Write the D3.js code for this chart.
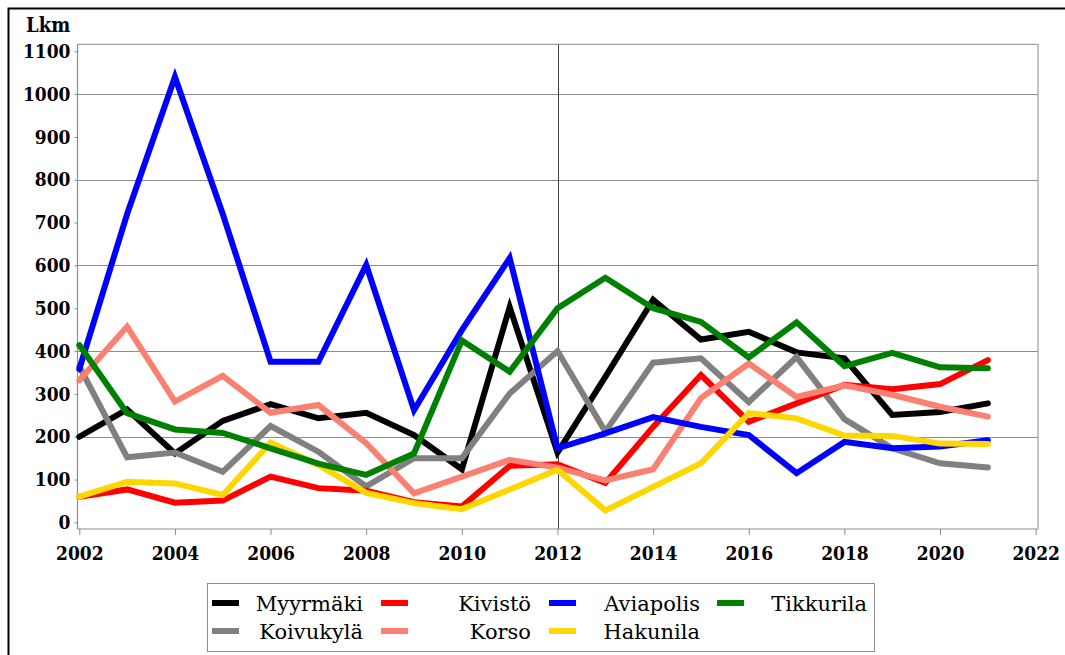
<!DOCTYPE html>
<html><head><meta charset="utf-8">
<script src="https://cdn.jsdelivr.net/npm/d3@7"></script>
<style>
html,body{margin:0;padding:0;background:#fff;overflow:hidden;}
</style></head><body>
<svg id="c" width="1065" height="655"></svg>
<script>
const years = [2002,2003,2004,2005,2006,2007,2008,2009,2010,2011,2012,2013,2014,2015,2016,2017,2018,2019,2020,2021];
const myyrmaki  = [200,264,161,237,276,243,256,204,124,503,163,340,520,427,445,397,383,251,258,278];
const koivukyla = [364,152,163,118,225,165,84,150,150,301,400,212,373,383,281,386,241,173,138,128];
const kivisto   = [60,77,46,51,107,80,74,47,37,132,136,92,223,344,235,278,321,311,323,379];
const korso     = [332,457,282,342,256,274,185,68,107,146,128,98,124,290,371,293,320,298,270,247];
const aviapolis = [358,720,1040,720,375,375,601,262,449,617,173,208,246,223,204,115,188,173,177,192];
const hakunila  = [60,95,91,64,186,134,69,45,31,77,123,28,83,138,255,243,203,202,184,183];
const tikkurila = [414,255,217,209,173,137,111,161,425,352,500,571,500,468,385,467,365,396,362,360];
const seriesNames = ["Myyrmäki","Koivukylä","Kivistö","Korso","Aviapolis","Hakunila","Tikkurila"];
const seriesValues = [myyrmaki,koivukyla,kivisto,korso,aviapolis,hakunila,tikkurila];
const seriesColors = ["#000000","#808080","#ff0000","#fa8072","#0000ff","#ffd700","#008000"];
const yTicks = [0,100,200,300,400,500,600,700,800,900,1000,1100];
const yGrid = [200,400,600,800,1000];
const xTicks = [2002,2004,2006,2008,2010,2012,2014,2016,2018,2020,2022];
const markerYear = 2012;
const yTitle = "Lkm";

const boldFont = '"DejaVu Serif Condensed","DejaVu Serif",serif';
const svg = d3.select("#c");
// outer frame
svg.append("rect").attr("x",8.5).attr("y",8.5).attr("width",1200).attr("height",800)
  .attr("fill","none").attr("stroke","#000").attr("stroke-width",2);

const x = d3.scaleLinear().domain([2002,2022]).range([79.3,1035.7]);
const y = d3.scaleLinear().domain([0,1000]).range([522.4,94.1]);
const plotL=77.5, plotR=1038, plotT=44.3, plotB=529;

svg.append("path").attr("d",`M${plotL},${plotT}H${plotR}V${plotB}`)
  .attr("fill","none").attr("stroke","#a0a0a0").attr("stroke-width",1.2);
svg.append("g").selectAll("line").data(yGrid).join("line")
  .attr("x1",plotL).attr("x2",plotR).attr("y1",d=>Math.round(y(d))+0.5).attr("y2",d=>Math.round(y(d))+0.5)
  .attr("stroke","#8c8c8c").attr("stroke-width",1.2);
svg.append("line").attr("x1",Math.round(x(markerYear))+0.5).attr("x2",Math.round(x(markerYear))+0.5)
  .attr("y1",plotT).attr("y2",plotB).attr("stroke","#404040").attr("stroke-width",1);

const yAxis = d3.axisLeft(y).tickValues(yTicks).tickSize(3).tickPadding(4).tickFormat(d3.format("d"));
const gy = svg.append("g").attr("transform",`translate(${plotL},0)`).call(yAxis);
gy.select(".domain").attr("d",`M-0,${plotT}V${plotB}`).attr("stroke","#8c8c8c").attr("stroke-width",1.2);
gy.selectAll(".tick line").attr("stroke","#8c8c8c");
gy.selectAll(".tick text").attr("font-size",19).attr("font-weight","bold").attr("fill","#000")
  .attr("font-family",boldFont).style("font-stretch","condensed");

const xAxis = d3.axisBottom(x).tickValues(xTicks).tickSize(6).tickPadding(12).tickFormat(d3.format("d"));
const gx = svg.append("g").attr("transform",`translate(0,${plotB})`).call(xAxis);
gx.select(".domain").attr("d",`M${plotL},0H${plotR}`).attr("stroke","#8c8c8c").attr("stroke-width",1.2);
gx.selectAll(".tick line").attr("stroke","#8c8c8c");
gx.selectAll(".tick text").attr("font-size",19).attr("font-weight","bold").attr("fill","#000")
  .attr("font-family",boldFont).style("font-stretch","condensed");

svg.append("text").attr("x",26).attr("y",32).attr("font-size",20).attr("font-weight","bold")
  .attr("font-family",boldFont).style("font-stretch","condensed").text(yTitle);

const line = d3.line().x((d,i)=>x(years[i])).y(d=>y(d));
seriesValues.forEach((vals,k)=>{
  svg.append("path").datum(vals).attr("d",line).attr("fill","none")
    .attr("stroke",seriesColors[k]).attr("stroke-width",6)
    .attr("stroke-linejoin","miter").attr("stroke-miterlimit",10).attr("stroke-linecap","round");
});

svg.append("rect").attr("x",207.5).attr("y",583.5).attr("width",667).attr("height",68)
  .attr("fill","#fff").attr("stroke","#8c8c8c").attr("stroke-width",1);
const colSwatch=[212,381,549,717], colTextEnd=[363,531,700,867], rowY=[604,632];
seriesNames.forEach((n,k)=>{
  const col=Math.floor(k/2), row=k%2;
  svg.append("rect").attr("x",colSwatch[col]).attr("y",rowY[row]-4).attr("width",27).attr("height",6)
    .attr("fill",seriesColors[k]);
  svg.append("text").attr("x",colTextEnd[col]).attr("y",rowY[row]).attr("dy","0.35em")
    .attr("text-anchor","end").attr("font-size",21).attr("font-family",'"DejaVu Serif",serif').text(n);
});
</script></body></html>
